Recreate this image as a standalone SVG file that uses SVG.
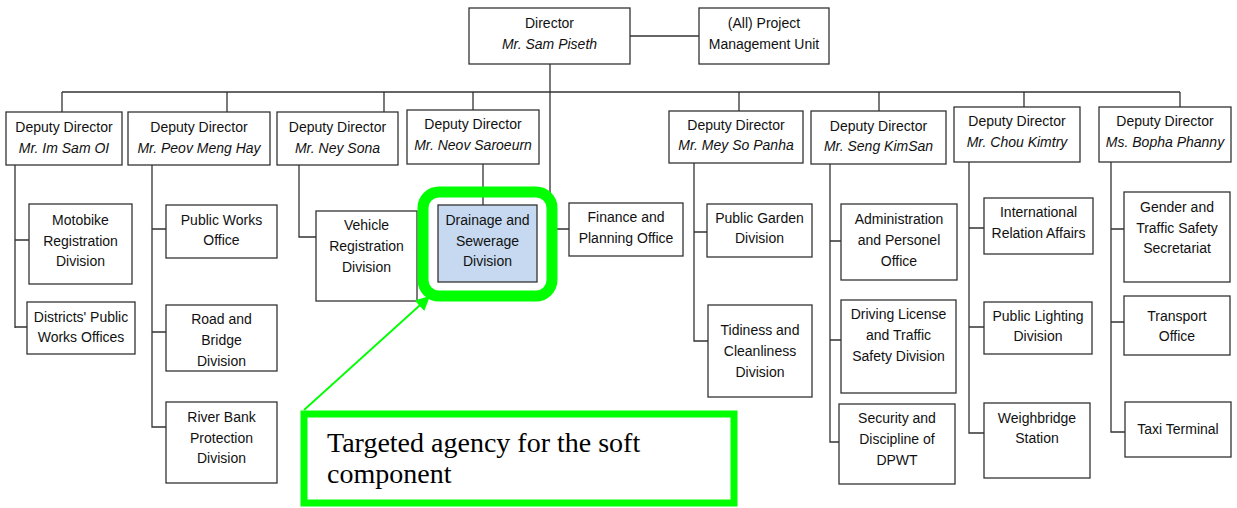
<svg xmlns="http://www.w3.org/2000/svg" width="1237" height="508" viewBox="0 0 1237 508">
  <style>
    .box { fill: #ffffff; stroke: #333333; stroke-width: 1.3; }
    .hl { fill: #c6d9f0; stroke: #333333; stroke-width: 1.3; }
    .ln { fill: none; stroke: #333333; stroke-width: 1.3; }
    text { font-family: "Liberation Sans", Arial, sans-serif; font-size: 14px; fill: #111111; text-anchor: middle; }
    .nm { font-style: italic; }
    .note { font-family: "Liberation Serif", "Times New Roman", serif; font-size: 28px; text-anchor: start; fill: #000000; }
  </style>
  <defs>
    <marker id="arrowGreen" viewBox="0 0 10 10" refX="9" refY="5" markerWidth="8" markerHeight="8" orient="auto" markerUnits="strokeWidth">
      <path d="M0,0 L10,5 L0,10 z" fill="#00ff00"/>
    </marker>
  </defs>
  <rect width="1237" height="508" fill="#ffffff"/>

  <!-- connectors -->
  <g id="connectors" class="ln">
    <path d="M630,36 H699"/>
    <path d="M550,64 V229 H569"/>
    <path d="M62,92 H1180"/>
    <path d="M62,92 V112 M227,92 V112 M384,92 V112 M473,92 V110 M739,92 V111 M879,92 V111 M1024,92 V107 M1180,92 V107"/>
    <!-- Im Sam OI -->
    <path d="M15,165 V328 M15,240 H29 M15,327 H27"/>
    <!-- Peov Meng Hay -->
    <path d="M152,165 V427 H166 M152,229 H166 M152,332 H166"/>
    <!-- Ney Sona -->
    <path d="M299,165 V237 H316"/>
    <!-- Neov Saroeurn -->
    <path d="M483,164 V205"/>
    <!-- Mey So Panha -->
    <path d="M694,163 V341 H708 M694,232 H707"/>
    <!-- Seng KimSan -->
    <path d="M830,164 V442 H839 M830,241 H841 M830,340 H841"/>
    <!-- Chou Kimtry -->
    <path d="M969,162 V433 H984 M969,228 H984 M969,327 H984"/>
    <!-- Bopha Phanny -->
    <path d="M1111,162 V432 H1125 M1111,229 H1124 M1111,322 H1124"/>
  </g>

  <g id="director">
    <rect class="box" x="469" y="8" width="161" height="56"/>
    <text x="549.5" y="28">Director</text>
    <text class="nm" x="549.5" y="49">Mr. Sam Piseth</text>
  </g>
  <g id="pmu">
    <rect class="box" x="699" y="8" width="130" height="56"/>
    <text x="764" y="28">(All) Project</text>
    <text x="764" y="49">Management Unit</text>
  </g>

  <g id="dd-im-sam-oi">
    <rect class="box" x="6" y="112" width="116" height="53"/>
    <text x="64" y="132">Deputy Director</text>
    <text class="nm" x="64" y="153">Mr. Im Sam OI</text>
  </g>
  <g id="dd-peov-meng-hay">
    <rect class="box" x="128" y="112" width="142" height="53"/>
    <text x="199" y="132">Deputy Director</text>
    <text class="nm" x="199" y="153">Mr. Peov Meng Hay</text>
  </g>
  <g id="dd-ney-sona">
    <rect class="box" x="277" y="112" width="121" height="53"/>
    <text x="337.5" y="132">Deputy Director</text>
    <text class="nm" x="337.5" y="153">Mr. Ney Sona</text>
  </g>
  <g id="dd-neov-saroeurn">
    <rect class="box" x="407" y="110" width="132" height="54"/>
    <text x="473" y="129">Deputy Director</text>
    <text class="nm" x="473" y="150">Mr. Neov Saroeurn</text>
  </g>
  <g id="dd-mey-so-panha">
    <rect class="box" x="669" y="111" width="134" height="52"/>
    <text x="736" y="130">Deputy Director</text>
    <text class="nm" x="736" y="150">Mr. Mey So Panha</text>
  </g>
  <g id="dd-seng-kimsan">
    <rect class="box" x="811" y="111" width="135" height="53"/>
    <text x="878.5" y="131">Deputy Director</text>
    <text class="nm" x="878.5" y="151">Mr. Seng KimSan</text>
  </g>
  <g id="dd-chou-kimtry">
    <rect class="box" x="954" y="107" width="126" height="55"/>
    <text x="1017" y="126">Deputy Director</text>
    <text class="nm" x="1017" y="147">Mr. Chou Kimtry</text>
  </g>
  <g id="dd-bopha-phanny">
    <rect class="box" x="1099" y="107" width="132" height="55"/>
    <text x="1165" y="126">Deputy Director</text>
    <text class="nm" x="1165" y="147">Ms. Bopha Phanny</text>
  </g>

  <g id="motobike">
    <rect class="box" x="29" y="204" width="103" height="80"/>
    <text x="80.5" y="225">Motobike</text>
    <text x="80.5" y="246">Registration</text>
    <text x="80.5" y="266">Division</text>
  </g>
  <g id="districts">
    <rect class="box" x="27" y="302" width="108" height="52"/>
    <text x="81" y="322">Districts' Public</text>
    <text x="81" y="342">Works Offices</text>
  </g>
  <g id="public-works">
    <rect class="box" x="166" y="205" width="111" height="53"/>
    <text x="221.5" y="225">Public Works</text>
    <text x="221.5" y="245">Office</text>
  </g>
  <g id="road-bridge">
    <rect class="box" x="166" y="305" width="111" height="66"/>
    <text x="221.5" y="324">Road and</text>
    <text x="221.5" y="345">Bridge</text>
    <text x="221.5" y="366">Division</text>
  </g>
  <g id="river-bank">
    <rect class="box" x="166" y="402" width="111" height="81"/>
    <text x="221.5" y="422">River Bank</text>
    <text x="221.5" y="443">Protection</text>
    <text x="221.5" y="463">Division</text>
  </g>
  <g id="vehicle">
    <rect class="box" x="316" y="211" width="101" height="90"/>
    <text x="366.5" y="230">Vehicle</text>
    <text x="366.5" y="251">Registration</text>
    <text x="366.5" y="272">Division</text>
  </g>
  <g id="drainage">
    <rect x="423" y="192" width="129" height="104" rx="16" ry="16" fill="none" stroke="#00ff00" stroke-width="11"/>
    <rect class="hl" x="438" y="205" width="99" height="77"/>
    <text x="487.5" y="225">Drainage and</text>
    <text x="487.5" y="246">Sewerage</text>
    <text x="487.5" y="266">Division</text>
  </g>
  <g id="finance">
    <rect class="box" x="569" y="203" width="114" height="53"/>
    <text x="626" y="222">Finance and</text>
    <text x="626" y="243">Planning Office</text>
  </g>
  <g id="public-garden">
    <rect class="box" x="707" y="204" width="105" height="53"/>
    <text x="759.5" y="223">Public Garden</text>
    <text x="759.5" y="243">Division</text>
  </g>
  <g id="tidiness">
    <rect class="box" x="708" y="305" width="104" height="92"/>
    <text x="760" y="335">Tidiness and</text>
    <text x="760" y="356">Cleanliness</text>
    <text x="760" y="377">Division</text>
  </g>
  <g id="administration">
    <rect class="box" x="841" y="204" width="116" height="76"/>
    <text x="899" y="224">Administration</text>
    <text x="899" y="245">and Personel</text>
    <text x="899" y="266">Office</text>
  </g>
  <g id="driving-license">
    <rect class="box" x="841" y="300" width="115" height="93"/>
    <text x="898.5" y="319">Driving License</text>
    <text x="898.5" y="340">and Traffic</text>
    <text x="898.5" y="361">Safety Division</text>
  </g>
  <g id="security">
    <rect class="box" x="839" y="404" width="116" height="80"/>
    <text x="897" y="423">Security and</text>
    <text x="897" y="444">Discipline of</text>
    <text x="897" y="465">DPWT</text>
  </g>
  <g id="international">
    <rect class="box" x="984" y="198" width="109" height="56"/>
    <text x="1038.5" y="217">International</text>
    <text x="1038.5" y="238">Relation Affairs</text>
  </g>
  <g id="public-lighting">
    <rect class="box" x="984" y="302" width="108" height="52"/>
    <text x="1038" y="321">Public Lighting</text>
    <text x="1038" y="341">Division</text>
  </g>
  <g id="weighbridge">
    <rect class="box" x="984" y="403" width="106" height="75"/>
    <text x="1037" y="423">Weighbridge</text>
    <text x="1037" y="443">Station</text>
  </g>
  <g id="gender">
    <rect class="box" x="1124" y="192" width="106" height="90"/>
    <text x="1177" y="212">Gender and</text>
    <text x="1177" y="233">Traffic Safety</text>
    <text x="1177" y="253">Secretariat</text>
  </g>
  <g id="transport">
    <rect class="box" x="1124" y="296" width="106" height="59"/>
    <text x="1177" y="321">Transport</text>
    <text x="1177" y="341">Office</text>
  </g>
  <g id="taxi">
    <rect class="box" x="1125" y="402" width="106" height="55"/>
    <text x="1178" y="434">Taxi Terminal</text>
  </g>

  <!-- callout -->
  <g id="callout">
    <line x1="304" y1="410" x2="429" y2="297" stroke="#00ff00" stroke-width="1.8" marker-end="url(#arrowGreen)"/>
    <rect x="304" y="414" width="430" height="89" fill="#ffffff" stroke="#00ff00" stroke-width="7"/>
    <text class="note" x="327" y="452">Targeted agency for the soft</text>
    <text class="note" x="327" y="483">component</text>
  </g>
</svg>
